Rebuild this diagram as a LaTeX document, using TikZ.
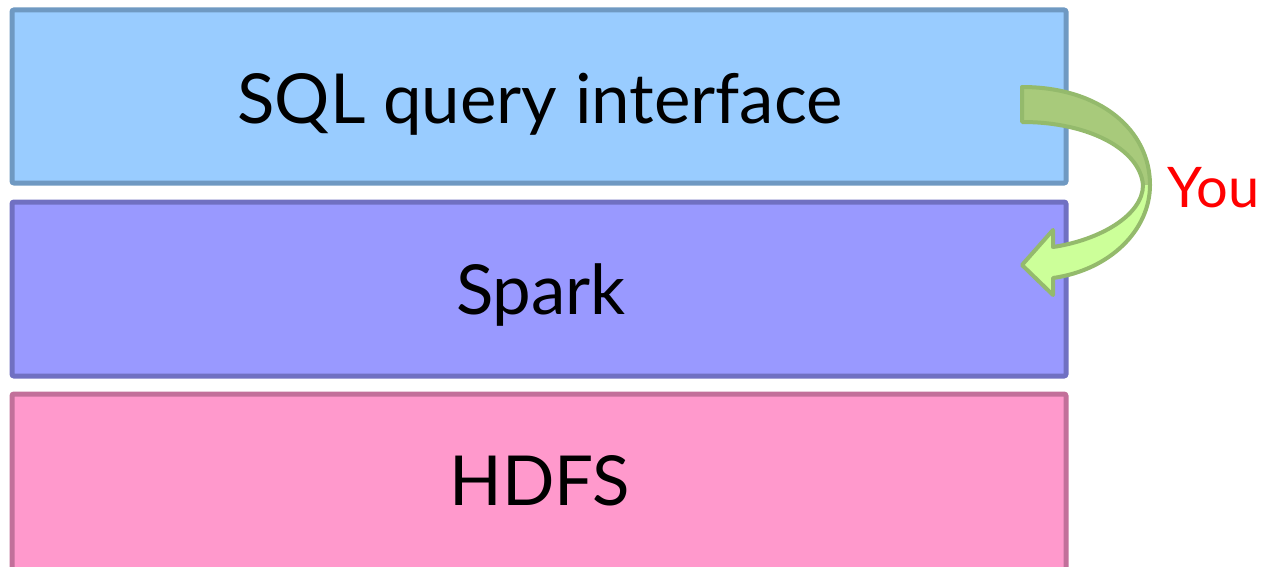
\documentclass[tikz,border=0pt]{standalone}
\usepackage{fontspec}
\setmainfont{Lato}
\definecolor{sqlfill}{HTML}{99CCFF}
\definecolor{sqlline}{HTML}{6F99C2}
\definecolor{sparkfill}{HTML}{9999FF}
\definecolor{sparkline}{HTML}{7070C2}
\definecolor{hdfsfill}{HTML}{FF99CC}
\definecolor{hdfsline}{HTML}{C2709A}
\definecolor{arrdark}{HTML}{A8CA7B}
\definecolor{arrlight}{HTML}{CCFF99}
\definecolor{arrline}{HTML}{94BA6C}
\definecolor{youred}{HTML}{FF0000}
\begin{document}
\begin{tikzpicture}[x=1pt,y=-1pt,
  layer/.style={draw, line width=5pt, rounded corners=2pt},
  labeltext/.style={font=\fontsize{69}{82}\selectfont, text=black, anchor=base}]
\useasboundingbox (0,0) rectangle (1266,567);
\clip (0,0) rectangle (1266,567);
\draw[layer, fill=sqlfill, draw=sqlline] (12,10) rectangle (1066,183);
\draw[layer, fill=sparkfill, draw=sparkline] (12,202) rectangle (1066,376);
\draw[layer, fill=hdfsfill, draw=hdfsline] (12,394) rectangle (1066,580);
\node[labeltext] (sql) at (540,124) {SQL query interface};
\node[labeltext] (spark) at (541,314) {Spark};
\node[labeltext] (hdfs) at (540,505) {HDFS};
% curved arrow
\fill[arrdark] (1022,87) .. controls (1100,87) and (1150,130) .. (1150,185)
  -- (1143,185) .. controls (1140,150) and (1090,122) .. (1022,122) -- cycle;
\fill[arrlight] (1150,185) .. controls (1150,230) and (1110,270) .. (1053,278)
  -- (1053,295) -- (1022,265) -- (1053,230) -- (1053,247)
  .. controls (1100,240) and (1143,215) .. (1143,185) -- cycle;
\draw[arrline, line width=4pt, line join=round]
  (1022,87) .. controls (1100,87) and (1150,130) .. (1150,185)
  .. controls (1150,230) and (1110,270) .. (1053,278)
  -- (1053,295) -- (1022,265) -- (1053,230) -- (1053,247)
  .. controls (1100,240) and (1143,215) .. (1143,185)
  .. controls (1140,150) and (1090,122) .. (1022,122) -- cycle;
\node[font=\fontsize{56}{66}\selectfont, text=youred, anchor=base west] (you) at (1164,207) {You};
\end{tikzpicture}
\end{document}
